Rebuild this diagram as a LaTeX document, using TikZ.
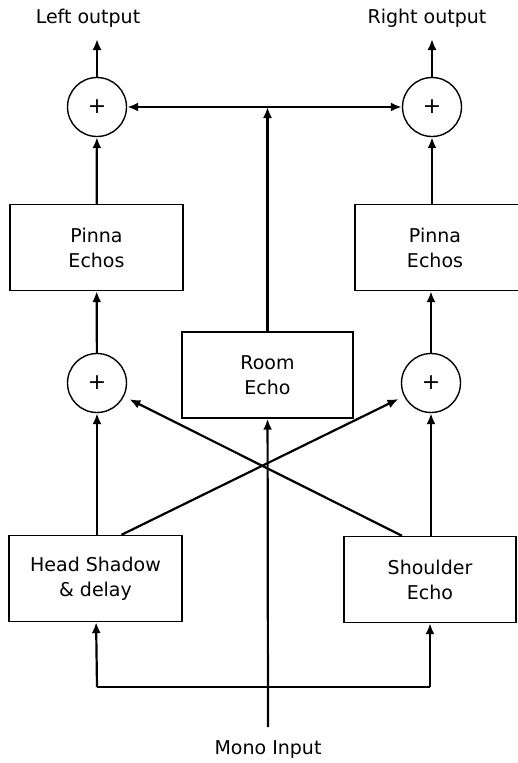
\documentclass[tikz,border=0pt]{standalone}
\usepackage{fontspec}
\setmainfont{DejaVu Sans}
\usetikzlibrary{arrows.meta}
\tikzset{
	block/.style={draw, line width=1.4pt, minimum width=173pt, minimum height=86pt, align=center, inner sep=0pt},
	adder/.style={draw, circle, line width=1.4pt, minimum size=59pt, inner sep=0pt},
	sig/.style={line width=2.2pt, -{Latex[length=11pt,width=9pt]}},
	wire/.style={line width=2.2pt},
}

\begin{document}
\begin{tikzpicture}[x=1pt,y=-1pt, font=\fontsize{19}{25}\selectfont]
\useasboundingbox (0,0) rectangle (517,763);
% outputs
\node (lout) at (88,18) {Left output};
\node (rout) at (427,18) {Right output};
\coordinate (lo) at (97,39);
\coordinate (ro) at (432,39);
% adders
\node[adder] (sumLT) at (97,107) {\fontsize{22}{22}\selectfont +};
\node[adder] (sumRT) at (432,107) {\fontsize{22}{22}\selectfont +};
\node[adder] (sumLB) at (97,383) {\fontsize{22}{22}\selectfont +};
\node[adder] (sumRB) at (431,383) {\fontsize{22}{22}\selectfont +};
% blocks
\node[block] (pinL) at (96.5,247.5) {Pinna\\Echos};
\node[block] (pinR) at (441.5,247.5) {\hspace*{-13pt}Pinna\\\hspace*{-13pt}Echos};
\node[block, minimum width=171pt] (room) at (267.5,375) {Room\\Echo};
\node[block] (head) at (95.5,578.5) {Head Shadow\\\& delay};
\node[block, minimum width=172pt] (shoulder) at (430,579.5) {Shoulder\\Echo};
% input
\node (mono) at (268,750) {Mono Input};
\coordinate (min) at (268,727);
\coordinate (busL) at (97,687);
\coordinate (busR) at (430,687);

% outputs and room echo feed
\draw[sig] (sumLT) -- (lo);
\draw[sig] (sumRT) -- (ro);
\draw[wire, {Latex[length=11pt,width=9pt]}-{Latex[length=11pt,width=9pt]}] (sumLT) -- (sumRT);
\draw[sig] (room.north) -- (room.north |- sumLT.east);

% pinna paths
\draw[sig] (pinL) -- (sumLT);
\draw[sig] (pinR.north -| sumRT) -- (sumRT);
\draw[sig] (sumLB) -- (pinL);
\draw[sig] (sumRB) -- (sumRB |- pinR.south);

% head shadow and shoulder
\draw[sig] (head.north -| sumLB) -- (sumLB);
\draw[sig] (shoulder.north -| sumRB) -- (sumRB);
\draw[sig, shorten >=6pt] ([xshift=26pt]head.north) -- (sumRB);
\draw[sig, shorten >=6pt] ([xshift=-28pt]shoulder.north) -- (sumLB);

% mono input bus
\draw[sig] (min) -- (room);
\draw[wire] (busL) -- (busR);
\draw[sig] (busL) -- (head);
\draw[sig] (busR) -- (shoulder);
\end{tikzpicture}
\end{document}
